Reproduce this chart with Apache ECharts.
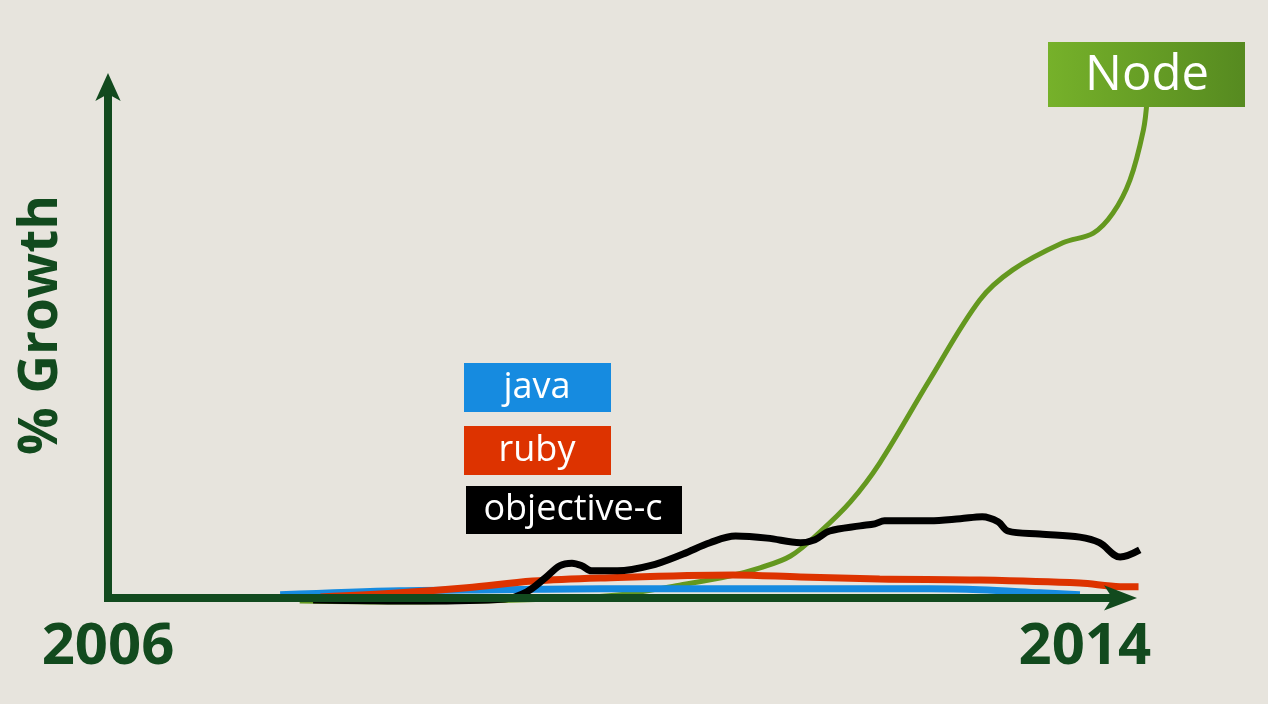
<!DOCTYPE html>
<html>
<head>
<meta charset="utf-8">
<script src="https://cdn.jsdelivr.net/npm/echarts@6/dist/echarts.min.js"></script>
<style>
html,body{margin:0;padding:0;background:#e7e4dd;}
#chart{width:1268px;height:704px;}
</style>
</head>
<body>
<div id="chart"></div>
<script>
// Data (x = year, y = relative % growth)
const seriesNames = ['Node', 'java', 'ruby', 'objective-c'];
const yearTicks = [2006, 2014];
const nodeData = [
  [2007.57,-0.6],[2008.39,-0.8],[2009.05,-0.6],[2009.62,-0.2],[2010.19,0.6],[2010.68,2.5],
  [2011.09,4.3],[2011.34,5.9],[2011.59,8.2],[2011.83,12.9],[2012.08,18.8],[2012.32,26.4],
  [2012.73,42.7],[2013.14,58.3],[2013.41,64.2],[2013.82,69.5],[2014.07,71.4],[2014.23,75.3],
  [2014.37,81.8],[2014.48,91.6],[2014.51,97.5]
];
const javaData = [
  [2007.41,0.6],[2008.39,1.4],[2009.21,1.6],[2010.03,1.8],[2011.67,1.8],[2012.73,1.8],
  [2013.14,1.6],[2013.63,1.0],[2013.96,0.6]
];
const rubyData = [
  [2007.74,0.2],[2008.39,1.0],[2008.94,2.0],[2009.48,3.3],[2010.03,3.9],[2011.12,4.5],
  [2011.67,4.1],[2012.32,3.7],[2013.14,3.5],[2013.96,2.9],[2014.29,2.2],[2014.44,2.2]
];
const objcData = [
  [2007.68,-0.4],[2008.56,-0.6],[2009.25,-0.2],[2009.43,1.2],[2009.58,3.9],[2009.70,6.3],
  [2009.80,6.8],[2009.88,6.3],[2009.96,5.3],[2010.17,5.3],[2010.44,6.3],[2010.71,8.6],
  [2010.93,10.8],[2011.14,12.1],[2011.40,11.7],[2011.67,10.8],[2011.79,11.4],[2011.91,13.1],
  [2012.16,14.1],[2012.28,14.5],[2012.36,15.1],[2012.73,15.1],[2012.98,15.5],[2013.16,15.9],
  [2013.29,14.9],[2013.37,13.1],[2013.63,12.5],[2013.96,11.9],[2014.12,10.8],[2014.29,8.0],
  [2014.45,9.4]
];

const axisColor = '#124a1e';
const colors = { node: '#64981f', java: '#168be0', ruby: '#dd3300', objc: '#000000' };

// layout
const W = 1268, H = 704;
const plotLeft = 108, gridBottom = 602, gridTop = 87, axisLineEnd = 1121, seriesEnd = 1175;
const xArrowOffset = 16, yArrowOffset = 14;
const xMin = 2006, pxPerYear = 122.1, yMin = -0.8, yMax = 100;
const xMaxAxis = xMin + (axisLineEnd - plotLeft) / pxPerYear;
const xMaxSeries = xMin + (seriesEnd - plotLeft) / pxPerYear;

const chart = echarts.init(document.getElementById('chart'));

function box(x, y, w, h, fill) {
  return { type: 'rect', shape: { x: x, y: y, width: w, height: h }, style: { fill: fill }, z: 100 };
}
function boxText(cx, cy, text, size) {
  return {
    type: 'text', x: cx, y: cy, z: 101,
    style: { text: text, fill: '#ffffff', font: 'normal ' + size + 'px "Open Sans"', textAlign: 'center', textVerticalAlign: 'middle' }
  };
}

const lineBase = { type: 'line', smooth: 0.35, symbol: 'none', xAxisIndex: 1, yAxisIndex: 1, clip: false };

chart.setOption({
  backgroundColor: '#e7e4dd',
  animation: false,
  grid: [
    { left: plotLeft, right: W - axisLineEnd, top: gridTop, bottom: H - gridBottom, containLabel: false, outerBoundsMode: 'none' },
    { left: plotLeft, right: W - seriesEnd, top: gridTop, bottom: H - gridBottom, containLabel: false, outerBoundsMode: 'none' }
  ],
  xAxis: [
    {
      gridIndex: 0, type: 'value', min: xMin, max: xMaxAxis, z: 10,
      axisLine: {
        show: true, onZero: true,
        symbol: ['none', 'arrow'], symbolSize: [19, 33], symbolOffset: [0, xArrowOffset],
        lineStyle: { color: axisColor, width: 8, cap: 'butt' }
      },
      axisTick: { show: false },
      splitLine: { show: false },
      axisLabel: {
        customValues: yearTicks,
        formatter: function (v) { return String(v); },
        color: axisColor, fontFamily: 'Open Sans', fontWeight: 'bold',
        fontSize: 58, lineHeight: 58, margin: 16
      }
    },
    { gridIndex: 1, type: 'value', min: xMin, max: xMaxSeries, show: false, splitLine: { show: false } }
  ],
  yAxis: [
    {
      gridIndex: 0, type: 'value', min: yMin, max: yMax, z: 10,
      axisLine: {
        show: true,
        symbol: ['none', 'arrow'], symbolSize: [19, 28], symbolOffset: [0, yArrowOffset],
        lineStyle: { color: axisColor, width: 8, cap: 'butt' }
      },
      axisTick: { show: false },
      axisLabel: { show: false },
      splitLine: { show: false }
    },
    { gridIndex: 1, type: 'value', min: yMin, max: yMax, show: false, splitLine: { show: false } }
  ],
  series: [
    Object.assign({}, lineBase, { name: seriesNames[0], data: nodeData, lineStyle: { color: colors.node, width: 5 }, z: 2 }),
    Object.assign({}, lineBase, { name: seriesNames[1], data: javaData, lineStyle: { color: colors.java, width: 7 }, z: 3 }),
    Object.assign({}, lineBase, { name: seriesNames[2], data: rubyData, lineStyle: { color: colors.ruby, width: 7 }, z: 4 }),
    Object.assign({}, lineBase, { name: seriesNames[3], data: objcData, lineStyle: { color: colors.objc, width: 7 }, z: 5 })
  ],
  graphic: [
    {
      type: 'text', x: 42, y: 325, rotation: Math.PI / 2, z: 100,
      style: { text: '% Growth', fill: axisColor, font: 'bold 53px "Open Sans"', textAlign: 'center', textVerticalAlign: 'middle' }
    },
    box(464, 363, 147, 49, colors.java),
    boxText(537, 388, seriesNames[1], 36),
    box(464, 426, 147, 49, colors.ruby),
    boxText(537, 451, seriesNames[2], 36),
    box(466, 486, 216, 48, colors.objc),
    boxText(573, 510, seriesNames[3], 36),
    box(1048, 42, 197, 65,
      new echarts.graphic.LinearGradient(0, 0, 1, 0, [{ offset: 0, color: '#76b12a' }, { offset: 1, color: '#568a20' }])),
    boxText(1147, 76, seriesNames[0], 49)
  ]
});
</script>
</body>
</html>
